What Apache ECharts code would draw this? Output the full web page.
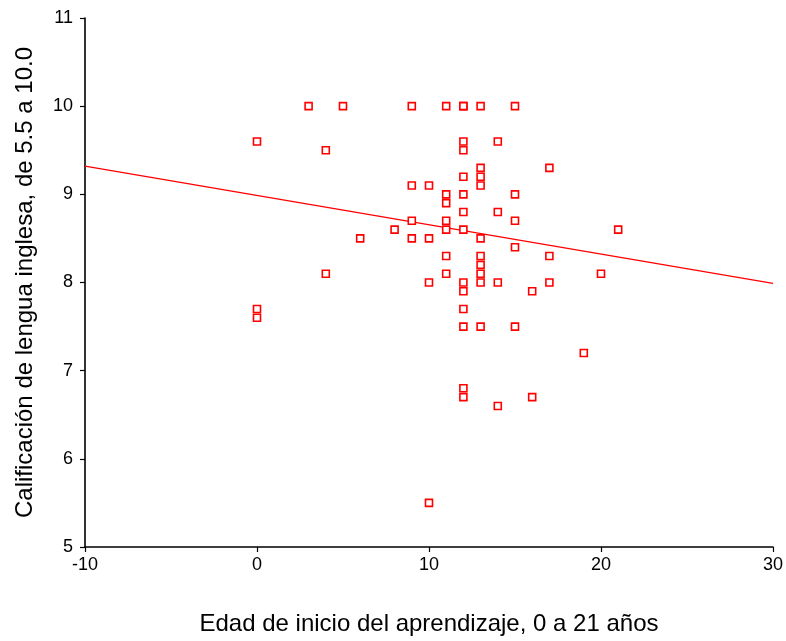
<!DOCTYPE html>
<html><head><meta charset="utf-8">
<script src="https://cdn.jsdelivr.net/npm/echarts@6/dist/echarts.min.js"></script>
<style>html,body{margin:0;padding:0;background:#fff}#c{width:786px;height:641px}</style>
</head><body><div id="c"></div>
<script>
// Edad de inicio (x) and calificación (y)
const edad = [0,0,0, 3, 4,4, 5, 6, 8,
  9,9,9,9, 10,10,10,10,
  11,11,11,11,11,11,11,
  12,12,12,12,12,12,12,12,12,12,12,12,12,12,
  13,13,13,13,13,13,13,13,13,13,
  14,14,14,14, 15,15,15,15,15, 16,16, 17,17,17, 19, 20, 21];
const calif = [9.6,7.7,7.6, 10.0, 9.5,8.1, 10.0, 8.5, 8.6,
  10.0,9.1,8.7,8.5, 9.1,8.5,8.0,5.5,
  10.0,9.0,8.9,8.7,8.6,8.3,8.1,
  10.0,9.6,9.5,9.2,9.0,8.8,8.6,8.0,7.9,7.7,7.5,6.8,6.7,10.0,
  10.0,9.3,9.2,9.1,8.5,8.3,8.2,8.1,8.0,7.5,
  9.6,8.8,8.0,6.6, 10.0,9.0,8.7,8.4,7.5, 7.9,6.7, 9.3,8.3,8.0, 7.2, 8.1, 8.6];
const fitX = [-10, 30];
const fitY = [9.32, 7.99];
const xTicks = [-10, 0, 10, 20, 30];
const yTicks = [5, 6, 7, 8, 9, 10, 11];

const pts = edad.map((x, i) => [x, calif[i]]);
const line = fitX.map((x, i) => [x, fitY[i]]);
const font = 'Liberation Sans, Arial, sans-serif';
const chart = echarts.init(document.getElementById('c'));
chart.setOption({
  animation: false,
  grid: {left: 85, right: 13, top: 18, bottom: 91},
  xAxis: {
    type: 'value', min: xTicks[0], max: xTicks[xTicks.length-1], interval: 10,
    name: 'Edad de inicio del aprendizaje, 0 a 21 años', nameLocation: 'middle', nameGap: 65,
    nameTextStyle: {fontFamily: font, fontSize: 24, color: '#000'},
    axisLine: {onZero: false, lineStyle: {color: '#000', width: 1.6}},
    axisTick: {show: true, length: 5, lineStyle: {color: '#000', width: 1.2}},
    axisLabel: {fontFamily: font, fontSize: 18, color: '#000', margin: 9},
    splitLine: {show: false}
  },
  yAxis: {
    type: 'value', min: yTicks[0], max: yTicks[yTicks.length-1], interval: 1,
    name: 'Calificación de lengua inglesa, de 5.5 a 10.0', nameLocation: 'middle', nameGap: 48,
    nameRotate: 90,
    nameTextStyle: {fontFamily: font, fontSize: 24, color: '#000'},
    axisLine: {show: true, onZero: false, lineStyle: {color: '#000', width: 1.6}},
    axisTick: {show: true, length: 5, lineStyle: {color: '#000', width: 1.2}},
    axisLabel: {fontFamily: font, fontSize: 18, color: '#000', margin: 12},
    splitLine: {show: false}
  },
  series: [
    {type: 'scatter', data: pts, symbol: 'rect', symbolSize: 7,
     itemStyle: {color: '#fff', borderColor: '#ff0000', borderWidth: 1.6, opacity: 1}},
    {type: 'line', data: line, symbol: 'none', lineStyle: {color: '#ff0000', width: 1.4}, z: 1}
  ]
});
</script></body></html>
